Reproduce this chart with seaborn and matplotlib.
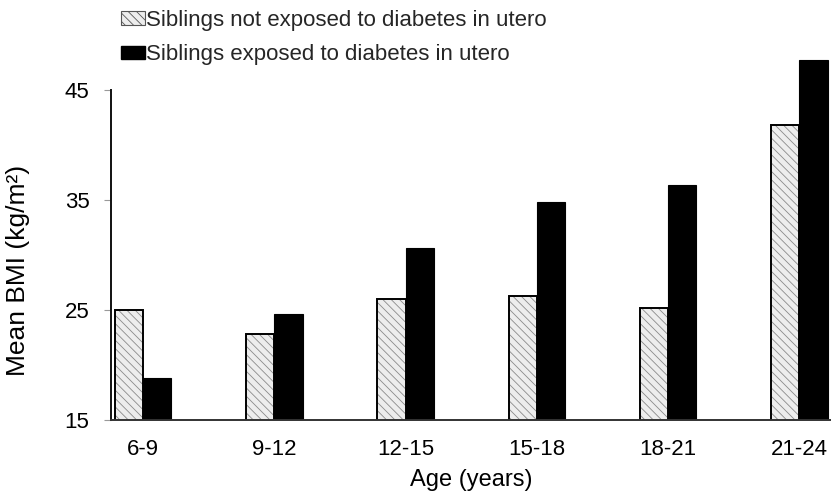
import matplotlib
matplotlib.use("Agg")
import matplotlib.pyplot as plt
from matplotlib.patches import Patch, Rectangle
import seaborn as sns
import pandas as pd

ages = ["6-9", "9-12", "12-15", "15-18", "18-21", "21-24"]
not_exposed = [25.0, 22.8, 26.0, 26.3, 25.2, 41.8]
exposed = [18.8, 24.6, 30.6, 34.8, 36.4, 47.7]
series_names = ["Siblings not exposed to diabetes in utero",
                "Siblings exposed to diabetes in utero"]
yticks = [15, 25, 35, 45]

df = pd.DataFrame({
    "age": ages * 2,
    "bmi": not_exposed + exposed,
    "group": [series_names[0]] * len(ages) + [series_names[1]] * len(ages),
})

sns.set_theme(style="white")
plt.rcParams["font.family"] = ["Liberation Sans", "DejaVu Sans"]
plt.rcParams["hatch.linewidth"] = 0.6
plt.rcParams["hatch.color"] = "#8a8a8a"

fig = plt.figure(figsize=(8.31, 5.0), dpi=100)
ax = fig.add_axes([111 / 831, 80 / 500, 720 / 831, 363 / 500])

sns.barplot(data=df, x="age", y="bmi", hue="group", hue_order=series_names,
            palette=["#ededed", "black"], width=0.43, gap=0,
            ax=ax, legend=False, saturation=1)

# style the not-exposed bars: stipple/hatch with black outline
for p in ax.containers[0]:
    p.set_hatch("\\\\\\\\")
    p.set_edgecolor("#8a8a8a")
    p.set_linewidth(0)
    ax.add_patch(Rectangle(p.get_xy(), p.get_width(), p.get_height(),
                           fill=False, edgecolor="black", linewidth=1.4,
                           zorder=p.get_zorder() + 0.1))
for p in ax.containers[1]:
    p.set_edgecolor("black")
    p.set_linewidth(0.8)

ax.set_ylim(15, 48)
ax.set_xlim(-0.245, 5.24)
ax.set_yticks(yticks)
ax.set_yticklabels([str(v) for v in yticks])
ax.spines["top"].set_visible(False)
ax.spines["right"].set_visible(False)
ax.spines["left"].set_bounds(15, 45)
ax.spines["left"].set_color("#111111")
ax.spines["left"].set_linewidth(1.4)
ax.spines["bottom"].set_color("#333333")
ax.spines["bottom"].set_linewidth(1.4)
ax.spines["left"].set_zorder(5)
ax.spines["bottom"].set_zorder(5)

ax.tick_params(axis="y", which="major", left=True, length=5, width=0.8,
               color="#999999", pad=10.5, labelsize=16, labelcolor="black")
ax.tick_params(axis="x", which="major", bottom=False, length=0, pad=14,
               labelsize=16, labelcolor="black")

ax.set_xlabel("Age (years)", fontsize=17, color="black", labelpad=6)
ax.set_ylabel("Mean BMI (kg/m²)", fontsize=19, color="black")
ax.yaxis.set_label_coords(-0.113, 0.413)

handles = [
    Patch(facecolor="#ededed", edgecolor="#555555", hatch="\\\\\\\\", linewidth=0.8),
    Patch(facecolor="black", edgecolor="black"),
]
fig.legend(handles, series_names, loc="upper left",
           bbox_to_anchor=(121 / 831, 1 - 10 / 500), frameon=False,
           fontsize=16, handlelength=1.08, handleheight=0.55,
           handletextpad=0.05, labelspacing=0.6, borderpad=0, borderaxespad=0)

fig.savefig("out.png", dpi=100)
